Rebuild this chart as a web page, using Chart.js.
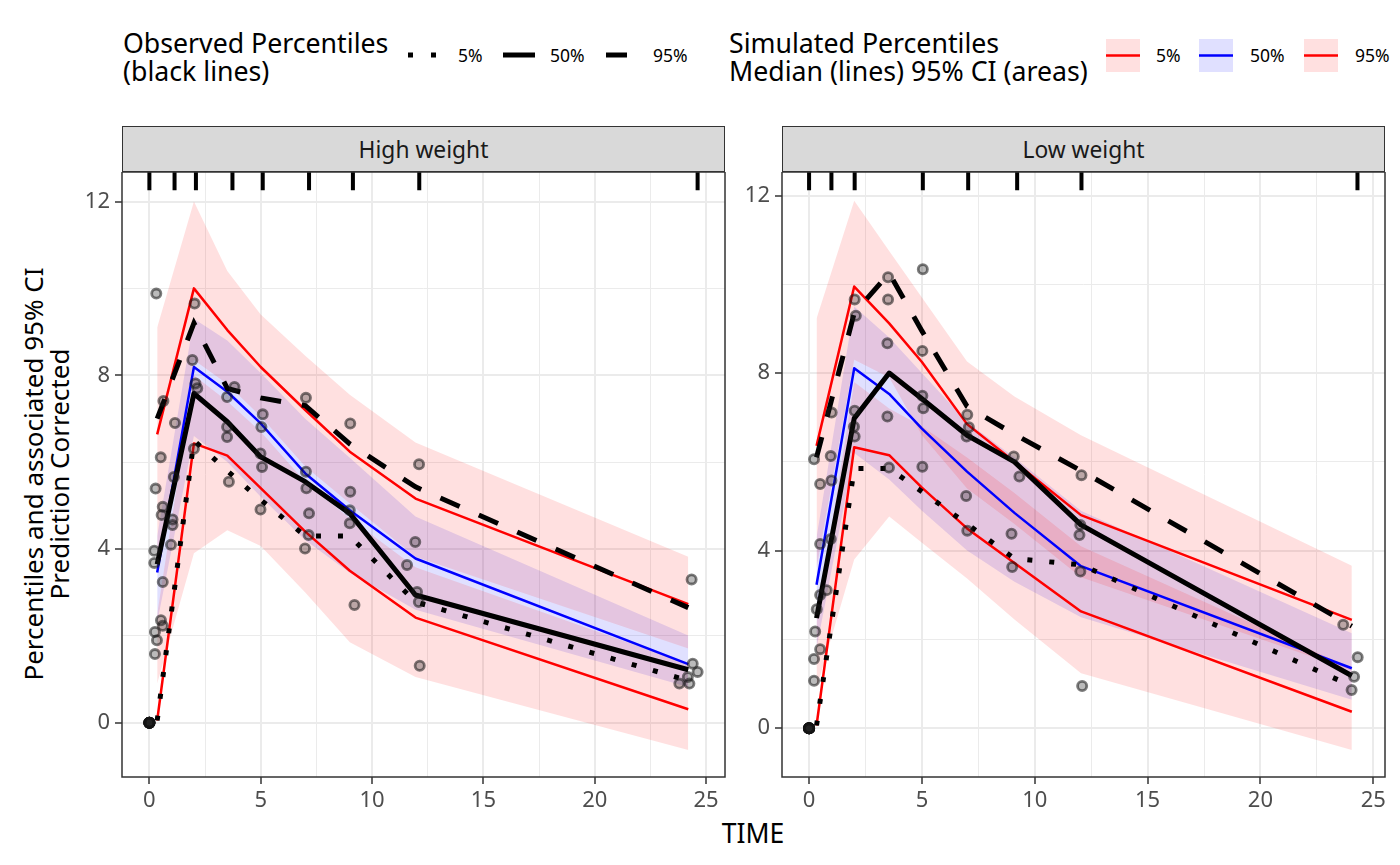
<!DOCTYPE html>
<html>
<head>
<meta charset="utf-8">
<script src="https://cdn.jsdelivr.net/npm/chart.js@4.4.1/dist/chart.umd.min.js"></script>
<style>
  html, body { margin: 0; padding: 0; background: #fff; }
  body { width: 1400px; height: 865px; position: relative; overflow: hidden; font-family: "Noto Sans", sans-serif; }
  canvas { position: absolute; }
  .strip { position: absolute; top: 126px; height: 46px; width: 603px; background: #d9d9d9; border: 1.5px solid #333;
           box-sizing: border-box; color: #1a1a1a; font-size: 22.8px; display: flex; align-items: center; justify-content: center; }
  .legtitle { position: absolute; top: 29px; font-size: 26.7px; line-height: 28px; color: #000; white-space: nowrap; }
  .leglab { position: absolute; top: 44px; font-size: 17.5px; line-height: 22px; color: #000; }
  .ytitle { position: absolute; left: -304px; top: 448px; width: 700px; height: 52px; line-height: 26px; font-size: 26px;
            text-align: center; transform: rotate(-90deg); white-space: nowrap; }
  .xtitle { position: absolute; left: 653px; top: 815px; width: 200px; text-align: center; font-size: 26.5px; line-height: 36px; }
</style>
</head>
<body>

<div class="legtitle" style="left:123px">Observed Percentiles<br>(black lines)</div>
<svg style="position:absolute;left:0;top:0" width="1400" height="100">
  <line x1="408" y1="55" x2="440" y2="55" stroke="#000" stroke-width="5" stroke-dasharray="5 18"/>
  <line x1="503" y1="55" x2="535" y2="55" stroke="#000" stroke-width="5"/>
  <line x1="606" y1="55" x2="638" y2="55" stroke="#000" stroke-width="5" stroke-dasharray="21 21"/>
  <rect x="1106" y="39" width="34" height="33" fill="rgba(255,0,0,0.12)"/>
  <line x1="1106" y1="55.5" x2="1140" y2="55.5" stroke="#f00" stroke-width="2.5"/>
  <rect x="1199" y="39" width="34" height="33" fill="rgba(0,0,255,0.12)"/>
  <line x1="1199" y1="55.5" x2="1233" y2="55.5" stroke="#00f" stroke-width="2.5"/>
  <rect x="1304" y="39" width="34" height="33" fill="rgba(255,0,0,0.12)"/>
  <line x1="1304" y1="55.5" x2="1338" y2="55.5" stroke="#f00" stroke-width="2.5"/>
</svg>
<div class="leglab" style="left:458px">5%</div>
<div class="leglab" style="left:550px">50%</div>
<div class="leglab" style="left:653px">95%</div>
<div class="legtitle" style="left:729px">Simulated Percentiles<br>Median (lines) 95% CI (areas)</div>
<div class="leglab" style="left:1156px">5%</div>
<div class="leglab" style="left:1250px">50%</div>
<div class="leglab" style="left:1355px">95%</div>

<div class="strip" style="left:122px">High weight</div>
<div class="strip" style="left:782px">Low weight</div>

<div class="ytitle">Percentiles and associated 95% CI<br>Prediction Corrected</div>
<div class="xtitle">TIME</div>

<canvas id="hiChart" width="660" height="645" style="left:70px;top:172px"></canvas>
<canvas id="loChart" width="660" height="645" style="left:730px;top:172px"></canvas>

<script>
// shared axis ticks (minor + major)
const xTicks = [0, 2.5, 5, 7.5, 10, 12.5, 15, 17.5, 20, 22.5, 25];
const yTicks = [0, 2, 4, 6, 8, 10, 12];

// High weight: bin times and percentile lines
const hiBinTime = [0.35, 2.0, 3.5, 5.0, 7.0, 9.0, 11.95, 24.2];
const hiObs5  = [0.05, 6.5, 5.8, 5.13, 4.3, 4.3, 2.78, 0.97];
const hiObs50 = [3.65, 7.58, 6.93, 6.12, 5.55, 4.82, 2.94, 1.22];
const hiObs95 = [7.0, 9.2, 7.7, 7.48, 7.3, 6.42, 5.43, 2.65];
const hiSim5  = [0.05, 6.43, 6.15, 5.4, 4.4, 3.5, 2.42, 0.31];
const hiSim50 = [3.46, 8.19, 7.62, 6.89, 5.74, 4.89, 3.78, 1.35];
const hiSim95 = [6.64, 10.0, 9.04, 8.19, 7.2, 6.24, 5.16, 2.73];
// High weight: 95% CI areas
const hiSim5Lo  = [0.9, 3.9, 4.43, 4.07, 3.0, 1.85, 1.05, -0.63];
const hiSim5Hi  = [2.5, 8.0, 7.4, 6.7, 5.55, 4.7, 3.58, 1.36];
const hiSim50Lo = [2.3, 6.6, 6.0, 5.2, 4.2, 3.45, 2.6, 0.82];
const hiSim50Hi = [4.3, 9.3, 8.8, 8.05, 7.0, 6.1, 4.75, 2.01];
const hiSim95Lo = [3.6, 8.35, 7.8, 7.05, 5.9, 5.05, 3.82, 1.71];
const hiSim95Hi = [9.1, 12.0, 10.4, 9.4, 8.45, 7.55, 6.45, 3.82];
// High weight: observations
const hiObsTime = [0, 0, 0, 0, 0, 0, 0, 0, 0, 0,
  0.31, 0.63, 1.15, 0.51, 0.28, 1.1, 0.6, 0.55, 1.04, 1.04, 0.97, 0.22, 0.22, 0.6, 0.52, 0.6, 0.25, 0.34, 0.25,
  2.03, 1.93, 2.07, 2.15, 2.0,
  3.82, 3.49, 3.49, 3.49, 3.57,
  5.09, 5.03, 4.99, 5.06, 4.99,
  7.03, 7.03, 7.05, 7.17, 7.15, 6.99,
  9.02, 9.02, 9.0, 9.0, 9.21,
  12.11, 11.94, 11.57, 12.02, 12.1, 12.14,
  24.35, 24.4, 24.62, 24.18, 23.8, 24.25];
const hiObsDv = [0, 0, 0, 0, 0, 0, 0, 0, 0, 0,
  9.88, 7.41, 6.9, 6.11, 5.39, 5.66, 4.97, 4.78, 4.68, 4.55, 4.1, 3.96, 3.68, 3.24, 2.36, 2.23, 2.09, 1.9, 1.58,
  9.65, 8.35, 7.81, 7.7, 6.31,
  7.73, 7.5, 6.81, 6.58, 5.55,
  7.1, 6.81, 6.2, 5.89, 4.91,
  7.48, 5.78, 5.4, 4.82, 4.32, 4.01,
  6.89, 5.32, 4.89, 4.59, 2.71,
  5.95, 4.16, 3.63, 3.01, 2.78, 1.31,
  3.3, 1.36, 1.17, 1.05, 0.9, 0.9];
const hiRug = [0, 1.13, 2.09, 3.73, 5.09, 7.17, 9.14, 12.12, 24.62];

// Low weight: bin times and percentile lines
const loBinTime = [0.33, 2.0, 3.55, 5.0, 7.0, 9.1, 12.05, 24.05];
const loObs5  = [0.06, 5.85, 5.85, 5.33, 4.6, 3.82, 3.68, 0.95];
const loObs50 = [2.48, 6.98, 8.0, 7.42, 6.6, 6.0, 4.58, 1.18];
const loObs95 = [6.1, 9.35, 10.25, 8.95, 7.25, 6.62, 5.8, 2.3];
const loSim5  = [0.06, 6.33, 6.15, 5.42, 4.5, 3.72, 2.63, 0.37];
const loSim50 = [3.23, 8.11, 7.53, 6.75, 5.78, 4.85, 3.65, 1.35];
const loSim95 = [6.36, 9.95, 9.12, 8.25, 6.85, 6.0, 4.8, 2.44];
// Low weight: 95% CI areas
const loSim5Lo  = [0.9, 3.8, 4.77, 4.18, 3.37, 2.45, 1.24, -0.49];
const loSim5Hi  = [2.4, 7.8, 7.2, 6.8, 6.1, 5.3, 4.1, 1.35];
const loSim50Lo = [1.8, 6.2, 5.6, 4.9, 4.0, 3.3, 2.5, 0.64];
const loSim50Hi = [4.3, 9.5, 8.8, 8.0, 6.9, 6.1, 4.9, 2.14];
const loSim95Lo = [3.6, 8.3, 7.9, 6.6, 5.4, 4.6, 3.4, 1.3];
const loSim95Hi = [9.23, 11.88, 10.75, 9.7, 8.26, 7.47, 6.6, 3.66];
// Low weight: observations
const loObsTime = [0, 0, 0, 0, 0, 0, 0, 0, 0, 0,
  0.22, 0.96, 0.49, 0.99, 1.0, 0.49, 0.96, 0.78, 0.49, 0.34, 0.27, 0.49, 0.22, 0.22,
  2.02, 2.07, 2.02, 1.99, 2.02,
  3.5, 3.5, 3.47, 3.47, 3.54,
  5.04, 5.02, 5.02, 5.06, 5.02,
  7.01, 7.08, 6.98, 6.96, 7.01,
  9.07, 9.32, 8.97, 9.0,
  12.07, 12.02, 11.98, 12.02, 12.1,
  23.67, 24.31, 24.15, 24.04];
const loObsDv = [0, 0, 0, 0, 0, 0, 0, 0, 0, 0,
  6.06, 6.13, 5.5, 5.58, 7.11, 4.15, 4.26, 3.11, 3.0, 2.68, 2.18, 1.78, 1.56, 1.07,
  9.66, 9.29, 7.15, 6.79, 6.57,
  10.16, 9.66, 8.67, 7.02, 5.87,
  10.34, 8.5, 7.49, 7.21, 5.89,
  7.06, 6.78, 6.57, 5.23, 4.45,
  6.12, 5.67, 4.38, 3.63,
  5.7, 4.58, 4.35, 3.53, 0.95,
  2.33, 1.6, 1.16, 0.86];
const loRug = [0, 0.99, 2.02, 5.04, 7.05, 9.22, 12.07, 24.3];

const FONT = '"Noto Sans", sans-serif';
const RED_FILL = 'rgba(255,0,0,0.12)';
const BLUE_FILL = 'rgba(0,0,255,0.12)';

function pts(xs, ys) {
    return xs.map((x, i) => ({ x: x, y: ys[i] }));
}

// rug at the top of the panel + panel border, drawn over the data
const panelDecor = {
    id: 'panelDecor',
    afterDatasetsDraw(chart, args, opts) {
        const { ctx, chartArea: a, scales } = chart;
        ctx.save();
        ctx.strokeStyle = '#000';
        ctx.lineWidth = 4;
        ctx.beginPath();
        opts.rug.forEach(t => {
            const px = scales.x.getPixelForValue(t);
            ctx.moveTo(px, a.top);
            ctx.lineTo(px, a.top + 0.03 * (a.bottom - a.top));
        });
        ctx.stroke();
        ctx.strokeStyle = '#333';
        ctx.lineWidth = 1.5;
        ctx.strokeRect(a.left, a.top, a.right - a.left, a.bottom - a.top);
        ctx.restore();
    }
};

function band(lo, hi, t, color) {
    return [
        { data: pts(t, lo), borderWidth: 0, borderColor: 'transparent', pointRadius: 0, fill: false, order: 10 },
        { data: pts(t, hi), borderWidth: 0, borderColor: 'transparent', pointRadius: 0, fill: '-1', backgroundColor: color, order: 10 }
    ];
}

function simLine(t, v, color) {
    return { data: pts(t, v), borderColor: color, borderWidth: 2.5, pointRadius: 0, fill: false,
             borderJoinStyle: 'round', order: 5 };
}

function obsLine(t, v, dash) {
    return { data: pts(t, v), borderColor: '#000', borderWidth: 5, pointRadius: 0, fill: false,
             borderDash: dash, borderCapStyle: 'butt', borderJoinStyle: dash.length ? 'miter' : 'round', order: 3 };
}

function makePanel(id, p) {
    const datasets = [
        ...band(p.sim95Lo, p.sim95Hi, p.t, RED_FILL),
        ...band(p.sim5Lo, p.sim5Hi, p.t, RED_FILL),
        ...band(p.sim50Lo, p.sim50Hi, p.t, BLUE_FILL),
        simLine(p.t, p.sim5, '#ff0000'),
        simLine(p.t, p.sim95, '#ff0000'),
        simLine(p.t, p.sim50, '#0000ff'),
        obsLine(p.t, p.obs5, [5, 17]),
        obsLine(p.t, p.obs50, []),
        obsLine(p.t, p.obs95, [21, 21]),
        { data: pts(p.obsTime, p.obsDv), showLine: false, pointRadius: 4.6, pointBorderWidth: 2.8,
          pointBackgroundColor: 'rgba(30,30,30,0.3)', pointBorderColor: 'rgba(20,20,20,0.55)', order: 1 }
    ];

    return new Chart(document.getElementById(id), {
        type: 'line',
        data: { datasets },
        plugins: [panelDecor],
        options: {
            responsive: false,
            animation: false,
            devicePixelRatio: 1,
            layout: { autoPadding: false, padding: { left: 0, right: 5, top: 0, bottom: 0 } },
            elements: { line: { tension: 0 } },
            plugins: {
                legend: { display: false },
                tooltip: { enabled: false },
                panelDecor: { rug: p.rug }
            },
            scales: {
                x: {
                    type: 'linear',
                    min: p.xMin,
                    max: p.xMax,
                    afterBuildTicks: s => { s.ticks = xTicks.map(v => ({ value: v })); },
                    afterFit: s => { s.height = 40; s.paddingLeft = 0; s.paddingRight = 0; },
                    border: { display: false },
                    grid: {
                        color: '#ebebeb',
                        lineWidth: c => (c.tick && c.tick.value % 5 === 0) ? 2 : 1,
                        tickLength: 7,
                        tickColor: c => (c.tick && c.tick.value % 5 === 0) ? '#333' : 'rgba(0,0,0,0)',
                        tickWidth: 1.5
                    },
                    ticks: {
                        autoSkip: false, maxRotation: 0, padding: 4, color: '#4d4d4d',
                        font: { family: FONT, size: 22 },
                        callback: v => (v % 5 === 0 ? String(v) : '')
                    }
                },
                y: {
                    type: 'linear',
                    min: p.yMin,
                    max: p.yMax,
                    afterBuildTicks: s => { s.ticks = yTicks.map(v => ({ value: v })); },
                    afterFit: s => { s.width = 52; s.paddingTop = 0; s.paddingBottom = 0; },
                    border: { display: false },
                    grid: {
                        color: '#ebebeb',
                        lineWidth: c => (c.tick && c.tick.value % 4 === 0) ? 2 : 1,
                        tickLength: 7,
                        tickColor: c => (c.tick && c.tick.value % 4 === 0) ? '#333' : 'rgba(0,0,0,0)',
                        tickWidth: 1.5
                    },
                    ticks: {
                        autoSkip: false, padding: 5, color: '#4d4d4d',
                        font: { family: FONT, size: 22 },
                        callback: v => (v % 4 === 0 ? String(v) : '')
                    }
                }
            }
        }
    });
}

makePanel('hiChart', {
    t: hiBinTime, obs5: hiObs5, obs50: hiObs50, obs95: hiObs95,
    sim5: hiSim5, sim50: hiSim50, sim95: hiSim95,
    sim5Lo: hiSim5Lo, sim5Hi: hiSim5Hi, sim50Lo: hiSim50Lo, sim50Hi: hiSim50Hi, sim95Lo: hiSim95Lo, sim95Hi: hiSim95Hi,
    obsTime: hiObsTime, obsDv: hiObsDv, rug: hiRug,
    xMin: -1.23, xMax: 25.85, yMin: -1.25, yMax: 12.68
});

makePanel('loChart', {
    t: loBinTime, obs5: loObs5, obs50: loObs50, obs95: loObs95,
    sim5: loSim5, sim50: loSim50, sim95: loSim95,
    sim5Lo: loSim5Lo, sim5Hi: loSim5Hi, sim50Lo: loSim50Lo, sim50Hi: loSim50Hi, sim95Lo: loSim95Lo, sim95Hi: loSim95Hi,
    obsTime: loObsTime, obsDv: loObsDv, rug: loRug,
    xMin: -1.2, xMax: 25.52, yMin: -1.1, yMax: 12.53
});
</script>
</body>
</html>
